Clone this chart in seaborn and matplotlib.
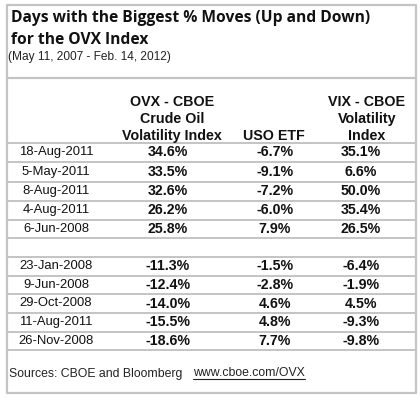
import matplotlib
matplotlib.use("Agg")
import matplotlib.pyplot as plt
import seaborn as sns

sns.set_theme(style="white")
plt.rcParams['font.family'] = ['Liberation Sans', 'DejaVu Sans']

title_lines = ["Days with the Biggest % Moves (Up and Down)", "for the OVX Index"]
subtitle = "(May 11, 2007 - Feb. 14, 2012)"
col_headers = [["OVX - CBOE", "Crude Oil", "Volatility Index"],
               ["USO ETF"],
               ["VIX - CBOE", "Volatility", "Index"]]
dates = ["18-Aug-2011", "5-May-2011", "8-Aug-2011", "4-Aug-2011", "6-Jun-2008",
         None,
         "23-Jan-2008", "9-Jun-2008", "29-Oct-2008", "11-Aug-2011", "26-Nov-2008"]
ovx = [34.6, 33.5, 32.6, 26.2, 25.8, None, -11.3, -12.4, -14.0, -15.5, -18.6]
uso = [-6.7, -9.1, -7.2, -6.0, 7.9, None, -1.5, -2.8, 4.6, 4.8, 7.7]
vix = [35.1, 6.6, 50.0, 35.4, 26.5, None, -6.4, -1.9, 4.5, -9.3, -9.8]
source_text = "Sources: CBOE and Bloomberg"
source_url = "www.cboe.com/OVX"

W, H = 420, 401
fig = plt.figure(figsize=(W / 100, H / 100), dpi=100)
ax = fig.add_axes([0, 0, 1, 1])
ax.set_xlim(0, W)
ax.set_ylim(H, 0)
ax.axis("off")

lc = "#c4c4c4"
left, right, top, bottom = 7, 416, 5, 393
# outer border
ax.plot([left, right, right, left, left], [top, top, bottom, bottom, top], color=lc, lw=1.6)
# title box bottom
ax.plot([left, right], [78, 78], color=lc, lw=1.6)

# row lines
row_lines = [143, 162, 181.5, 200.5, 219.5, 238, 257, 275.5, 294, 313, 332, 350]
for y in row_lines:
    ax.plot([left, right], [y, y], color=lc, lw=1.4)

# title (fit first line to ~360 px wide)
tfam = "Open Sans"
t1 = ax.text(11, 22, title_lines[0], fontsize=11, fontweight="bold", family=tfam,
             va="baseline", ha="left", color="#111111")
fig.canvas.draw()
w = t1.get_window_extent().width
fs = 11 * 360 / w
t1.set_fontsize(fs)
ax.text(11, 44, title_lines[1], fontsize=fs, fontweight="bold", family=tfam,
        va="baseline", ha="left", color="#111111")
ax.text(8, 60, subtitle, fontsize=8.6, va="baseline", ha="left", color="#222222")

# headers
col_x = [172, 274, 367]
hdr_y = [102, 119, 136]
for cx, lines in zip(col_x, col_headers):
    ys = hdr_y[-len(lines):]
    for y, t in zip(ys, lines):
        ax.text(cx, y, t, fontsize=10.3, fontweight="bold", ha="center", va="center", color="#111111")

# data rows
val_x = [168, 275, 361]
for i, d in enumerate(dates):
    if d is None:
        continue
    yc = (row_lines[i] + row_lines[i + 1]) / 2
    ax.text(56, yc, d, fontsize=9.4, ha="center", va="center", color="#111111")
    for cx, series in zip(val_x, [ovx, uso, vix]):
        ax.text(cx, yc, f"{series[i]:.1f}%", fontsize=10.2, fontweight="bold",
                ha="center", va="center", color="#111111")

# sources
ax.text(9, 376.5, source_text, fontsize=8.8, ha="left", va="baseline", color="#222222")
t = ax.text(193, 376.5, source_url, fontsize=8.8, ha="left", va="baseline", color="#222222")
fig.canvas.draw()
bb = t.get_window_extent()
x0, x1 = bb.x0, bb.x1
ax.plot([x0, x1], [378.5, 378.5], color="#222222", lw=0.8)

fig.savefig("out.png", dpi=100)
